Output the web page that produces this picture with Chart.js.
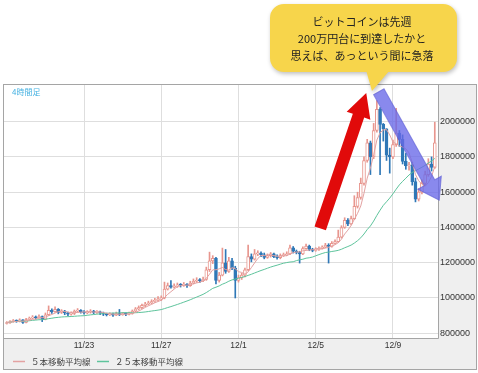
<!DOCTYPE html>
<html lang="ja">
<head>
<meta charset="utf-8">
<script src="https://cdn.jsdelivr.net/npm/chart.js@4.4.1/dist/chart.umd.min.js"></script>
<style>
  html, body { margin: 0; padding: 0; background: #fff; }
  #wrap { width: 478px; height: 373px; }
</style>
</head>
<body>
<div id="wrap"><canvas id="btcChart" width="478" height="373"></canvas></div>
<script>
// 4時間足 candles, prices in thousand yen (tick labels multiply back)
const firstOpen = 855;
const closes = [
  860, 866, 872, 868, 876, 862, 878, 885, 892, 888, 895, 880,
  905, 930, 922, 935, 918, 926, 915, 908, 912, 925, 930, 922,
  915, 920, 926, 918, 922, 915, 908, 905, 910, 903, 912, 906,
  910, 908, 912, 925, 938, 945, 958, 965, 972, 980, 988, 995,
  1000, 1050, 1070, 1062, 1068, 1075, 1072, 1078, 1070, 1085, 1095, 1100,
  1098, 1105, 1160, 1210, 1225, 1100, 1130, 1200, 1150, 1210, 1170, 1100,
  1115, 1130, 1160, 1235, 1220, 1250, 1255, 1245, 1230, 1240, 1250, 1235,
  1228, 1240, 1245, 1250, 1285, 1265, 1258, 1250, 1280, 1295, 1275, 1270,
  1275, 1282, 1288, 1300, 1292, 1310, 1320, 1345, 1400, 1440, 1420, 1450,
  1520, 1570, 1650, 1780, 1880, 1800, 1950, 2070, 1985, 1960, 1810, 1800,
  1870, 1935, 1900, 1775, 1750, 1755, 1660, 1560, 1600, 1650, 1700, 1760,
  1740, 1880
];
const highs = [
  866, 872, 878, 876, 882, 878, 884, 892, 900, 898, 905, 898,
  915, 955, 938, 950, 940, 934, 930, 920, 922, 932, 940, 934,
  928, 928, 934, 930, 928, 926, 920, 914, 916, 914, 920, 935,
  918, 916, 920, 932, 946, 955, 966, 975, 982, 990, 998, 1008,
  1012, 1090, 1085, 1098, 1080, 1085, 1082, 1088, 1082, 1095, 1108, 1115,
  1110, 1118, 1175, 1260, 1240, 1230, 1145, 1283, 1275, 1230, 1225, 1180,
  1130, 1140, 1170, 1300, 1250, 1275, 1268, 1262, 1255, 1250, 1258, 1255,
  1245, 1250, 1255, 1262, 1300, 1292, 1272, 1265, 1290, 1305, 1300, 1282,
  1285, 1290, 1296, 1310, 1308, 1320, 1330, 1385, 1410, 1455, 1450, 1465,
  1580, 1600, 1680, 1800, 1900, 1890, 1990, 2120, 2080, 1990, 1960, 1850,
  1895, 2076, 1950, 1925, 1820, 1770, 1770, 1680, 1620, 1670, 1720, 1790,
  1800, 1997
];
const lows = [
  852, 856, 862, 862, 864, 856, 858, 874, 882, 880, 884, 866,
  876, 900, 912, 918, 910, 912, 905, 900, 902, 906, 918, 914,
  908, 910, 914, 910, 912, 906, 900, 898, 900, 896, 900, 900,
  902, 900, 904, 908, 920, 932, 940, 950, 960, 966, 975, 982,
  985, 995, 1045, 1055, 1055, 1060, 1062, 1066, 1060, 1066, 1080, 1088,
  1088, 1092, 1100, 1150, 1195, 1080, 1090, 1125, 1140, 1145, 1160, 1000,
  1090, 1105, 1120, 1155, 1205, 1215, 1240, 1235, 1222, 1225, 1232, 1228,
  1220, 1222, 1235, 1240, 1245, 1255, 1250, 1198, 1245, 1275, 1268, 1262,
  1265, 1270, 1278, 1285, 1198, 1288, 1305, 1315, 1340, 1395, 1410, 1415,
  1445, 1510, 1560, 1640, 1770, 1700, 1790, 1940, 1700, 1890, 1780, 1708,
  1790, 1860, 1860, 1760, 1730, 1725, 1640, 1545, 1550, 1590, 1640, 1690,
  1720, 1735
];

const dateTickIndex = [24, 48, 72, 96, 120];
const dateTickLabels = ['11/23', '11/27', '12/1', '12/5', '12/9'];
const priceTicks = [800, 1000, 1200, 1400, 1600, 1800, 2000];
const maLabels = ['５本移動平均線', '２５本移動平均線'];
const maPeriods = [5, 25];
const calloutLines = ['ビットコインは先週', '200万円台に到達したかと', '思えば、あっという間に急落'];
const frameLabel = '4時間足';

// arrow anchors in data units (candle index, price)
const riseArrow = { from: [97.4, 1395], to: [111.7, 2163] };
const fallArrow = { from: [115.6, 2170], to: [134.4, 1555] };

const UP = '#e8968e';
const DOWN = '#2f78b7';
const MA_COLORS = ['#e3a2a2', '#5ec49c'];
const JP = "'Noto Sans CJK JP', 'Noto Sans', sans-serif";

const opens = closes.map((c, i) => i === 0 ? firstOpen : closes[i - 1]);

function movingAvg(arr, n) {
  return arr.map((_, i) => {
    const s = arr.slice(Math.max(0, i - n + 1), i + 1);
    return s.reduce((a, b) => a + b, 0) / s.length;
  });
}

const isUp = closes.map((c, i) => c >= opens[i]);
const bodies = closes.map((c, i) => ({ x: i, y: [Math.min(opens[i], c), Math.max(opens[i], c)] }));
const wicks = closes.map((c, i) => ({ x: i, y: [lows[i], highs[i]] }));

const maSets = maPeriods.map((p, k) => ({
  type: 'line',
  label: maLabels[k],
  data: movingAvg(closes, p).map((v, i) => ({ x: i, y: v })),
  borderColor: MA_COLORS[k],
  borderWidth: 1,
  pointRadius: 0,
  tension: 0
}));

function drawArrow(ctx, x1, y1, x2, y2, shaft, headW, headL, fill, stroke) {
  const ang = Math.atan2(y2 - y1, x2 - x1);
  const len = Math.hypot(x2 - x1, y2 - y1);
  ctx.save();
  ctx.translate(x1, y1);
  ctx.rotate(ang);
  ctx.beginPath();
  ctx.moveTo(0, -shaft / 2);
  ctx.lineTo(len - headL, -shaft / 2);
  ctx.lineTo(len - headL, -headW / 2);
  ctx.lineTo(len, 0);
  ctx.lineTo(len - headL, headW / 2);
  ctx.lineTo(len - headL, shaft / 2);
  ctx.lineTo(0, shaft / 2);
  ctx.closePath();
  ctx.fillStyle = fill;
  ctx.fill();
  if (stroke) { ctx.strokeStyle = stroke; ctx.lineWidth = 1; ctx.stroke(); }
  ctx.restore();
}

const overlay = {
  id: 'overlay',
  beforeDraw(chart) {
    const { ctx, chartArea: a } = chart;
    ctx.save();
    ctx.fillStyle = '#efefef';
    ctx.fillRect(3, 84, 474, 286);
    ctx.fillStyle = '#ffffff';
    ctx.fillRect(a.left, a.top, a.right - a.left, a.bottom - a.top);
    ctx.restore();
  },
  afterDraw(chart) {
    const { ctx, chartArea: a, scales } = chart;
    const px = (p) => [scales.x.getPixelForValue(p[0]), scales.y.getPixelForValue(p[1])];
    ctx.save();
    // frame
    ctx.strokeStyle = '#a5a5a5';
    ctx.lineWidth = 1;
    ctx.strokeRect(3.5, 84.5, 473, 285);
    ctx.beginPath();
    ctx.moveTo(a.left, Math.round(a.bottom) + 0.5);
    ctx.lineTo(Math.round(a.right) + 0.5, Math.round(a.bottom) + 0.5);
    ctx.lineTo(Math.round(a.right) + 0.5, a.top);
    ctx.stroke();

    ctx.font = '8px ' + JP;
    ctx.fillStyle = '#47b2e2';
    ctx.textBaseline = 'middle';
    ctx.fillText(frameLabel, 12, 91.5);

    // legend
    const lx = [13, 97];
    ctx.font = '8.5px ' + JP;
    maLabels.forEach((t, k) => {
      ctx.strokeStyle = MA_COLORS[k];
      ctx.lineWidth = 1.5;
      ctx.beginPath();
      ctx.moveTo(lx[k], 361.5);
      ctx.lineTo(lx[k] + 12, 361.5);
      ctx.stroke();
      ctx.fillStyle = '#444';
      ctx.fillText(t, lx[k] + 18, 361.5);
    });

    // arrows
    let p1 = px(riseArrow.from), p2 = px(riseArrow.to);
    drawArrow(ctx, p1[0], p1[1], p2[0], p2[1], 12, 25, 24, '#e10a0a');
    p1 = px(fallArrow.from); p2 = px(fallArrow.to);
    drawArrow(ctx, p1[0], p1[1], p2[0], p2[1], 12, 27, 20, 'rgba(104,104,232,0.78)', 'rgba(90,90,210,0.6)');

    // callout
    ctx.save();
    ctx.shadowColor = 'rgba(0,0,0,0.25)';
    ctx.shadowBlur = 4;
    ctx.shadowOffsetX = 1;
    ctx.shadowOffsetY = 2;
    ctx.fillStyle = '#f7d54b';
    ctx.beginPath();
    ctx.roundRect(270, 4, 187, 68, 14);
    ctx.moveTo(366, 70);
    ctx.lineTo(390, 70);
    ctx.lineTo(372, 91);
    ctx.closePath();
    ctx.fill();
    ctx.restore();
    ctx.fillStyle = '#222';
    ctx.font = '11px ' + JP;
    ctx.textAlign = 'center';
    ctx.textBaseline = 'middle';
    calloutLines.forEach((t, k) => ctx.fillText(t, 362, 21.5 + k * 17));
    ctx.restore();
  }
};

new Chart(document.getElementById('btcChart'), {
  type: 'bar',
  data: {
    datasets: [
      ...maSets,
      {
        label: 'body',
        data: bodies,
        barThickness: 3,
        minBarLength: 1,
        borderWidth: 1,
        borderSkipped: false,
        grouped: false,
        borderColor: isUp.map(u => u ? UP : DOWN),
        backgroundColor: isUp.map(u => u ? '#ffffff' : DOWN)
      },
      {
        label: 'wick',
        data: wicks,
        barThickness: 1,
        grouped: false,
        borderWidth: 0,
        backgroundColor: isUp.map(u => u ? UP : DOWN)
      }
    ]
  },
  options: {
    responsive: false,
    animation: false,
    events: [],
    layout: { padding: { top: 85, left: 4, right: 2, bottom: 19 } },
    plugins: { legend: { display: false }, tooltip: { enabled: false } },
    scales: {
      x: {
        type: 'linear',
        offset: false,
        min: -0.87,
        max: 134,
        afterBuildTicks: (s) => { s.ticks = dateTickIndex.map(v => ({ value: v })); },
        afterFit: (s) => { s.height = 16; },
        grid: { color: '#dedede', drawTicks: false, offset: false },
        border: { display: false },
        ticks: {
          padding: 3,
          autoSkip: false,
          maxRotation: 0,
          color: '#333',
          font: { family: "'Liberation Sans', Arial, sans-serif", size: 8.5 },
          callback: (v, i) => dateTickLabels[i]
        }
      },
      y: {
        type: 'linear',
        position: 'right',
        min: 773,
        max: 2208,
        afterBuildTicks: (s) => { s.ticks = priceTicks.map(v => ({ value: v })); },
        afterFit: (s) => { s.width = 38; },
        grid: { color: '#dedede', drawTicks: false },
        border: { display: false },
        ticks: {
          padding: 2,
          color: '#333',
          font: { family: "'Liberation Sans', Arial, sans-serif", size: 9 },
          callback: (v) => String(v * 1000)
        }
      }
    }
  },
  plugins: [overlay]
});
</script>
</body>
</html>
